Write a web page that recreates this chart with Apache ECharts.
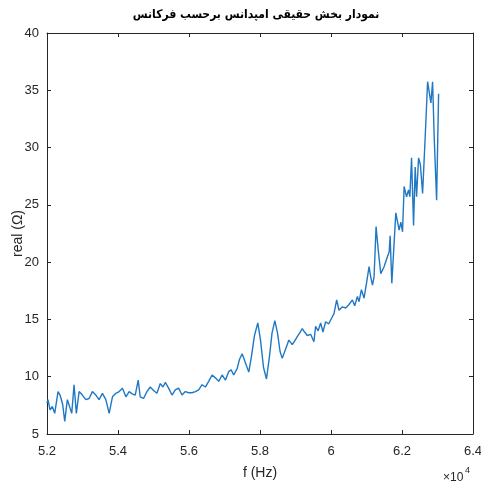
<!DOCTYPE html>
<html>
<head>
<meta charset="utf-8">
<script src="https://cdn.jsdelivr.net/npm/echarts@6/dist/echarts.min.js"></script>
<style>html,body{margin:0;padding:0;background:#fff}#c{width:481px;height:485px}</style>
</head>
<body>
<div id="c"></div>
<script>
// Frequency (Hz)
const freq = [52000,52028,52085,52150,52217,52311,52367,52440,52500,52573,52697,52762,52827,52904,52997,53093,53186,53279,53375,53468,53561,53657,53751,53844,53940,54033,54126,54222,54315,54400,54485,54569,54626,
54719,54815,54908,55001,55097,55191,55267,55332,55425,55521,55614,55707,55803,55896,55990,56086,56179,56272,56368,56461,56554,56650,56743,56837,56933,57026,57119,57187,57260,57356,57421,57497,57591,57684,57760,57845,57938,58014,58099,58183,58268,58339,58418,58494,58565,58627,58720,58813,58909,58974,59050,59115,59191,59256,59333,59426,59519,59567,59638,59708,59773,59849,59934,
59990,60084,60160,60225,60321,60414,60507,60603,60668,60744,60790,60857,60931,61007,61072,61120,61168,61213,61270,61332,61402,61495,61591,61640,61665,61713,61826,61919,61967,62015,62060,62128,62184,62221,62269,62326,62371,62410,62467,62518,62580,62653,62721,62766,62814,62862,62907,62975,63031];
// Real part of impedance (Ohm)
const realPart = [7.7,8.0,7.1,7.4,6.8,8.7,8.4,7.6,6.1,8.0,6.8,9.3,6.8,8.7,8.4,8.0,8.1,8.7,8.4,8.0,8.55,8.0,6.8,8.25,8.55,8.7,9.0,8.25,8.7,8.5,8.4,9.7,8.25,
8.1,8.7,9.1,8.8,8.55,9.4,9.1,9.5,9.0,8.4,8.85,9.0,8.4,8.7,8.6,8.6,8.7,8.85,9.3,9.1,9.6,10.15,9.9,9.6,10.15,9.7,10.45,10.6,10.15,10.7,11.5,12.0,11.2,10.4,11.8,13.6,14.7,13.2,10.8,9.8,11.8,13.8,14.9,13.8,12.2,11.6,12.4,13.2,12.8,13.1,13.5,13.8,14.2,13.9,13.6,13.7,13.05,14.4,14.0,14.7,13.9,14.8,14.6,
14.95,15.5,16.7,15.8,16.1,16.0,16.3,16.7,16.2,17.0,16.55,17.6,16.85,18.3,19.6,18.7,18.0,18.7,23.1,21.0,19.0,19.6,20.5,20.9,22.3,18.15,24.3,22.8,23.5,22.65,26.6,25.7,26.3,25.7,29.1,23.2,28.3,25.7,29.1,28.5,26.0,30.9,35.75,35.9,33.9,35.75,30.9,25.4,34.7];
// Tick values
const xTicks = [52000,54000,56000,58000,60000,62000,64000];
const yTicks = [5,10,15,20,25,30,35,40];

const titleText = 'نمودار بخش حقیقی امپدانس برحسب فرکانس';
const axisColor = '#262626';
const fontFam = 'Liberation Sans, Arial, sans-serif';

const chart = echarts.init(document.getElementById('c'), null, {renderer:'canvas'});
const baseX = {
  type:'value', min:xTicks[0], max:xTicks[xTicks.length-1], interval:2000,
  axisLine:{show:true,lineStyle:{color:axisColor,width:1}},
  axisTick:{show:true,inside:true,length:4,lineStyle:{color:axisColor}},
  splitLine:{show:false}
};
const baseY = {
  type:'value', min:yTicks[0], max:yTicks[yTicks.length-1], interval:5,
  axisLine:{show:true,lineStyle:{color:axisColor,width:1}},
  axisTick:{show:true,inside:true,length:4,lineStyle:{color:axisColor}},
  splitLine:{show:false}
};
chart.setOption({
  animation:false,
  backgroundColor:'#fff',
  grid:{left:47,right:8,top:33,bottom:51,containLabel:false,outerBoundsMode:'none'},
  xAxis:[
    Object.assign({}, baseX, {position:'bottom',
      name:'f (Hz)', nameLocation:'middle', nameGap:32, nameMoveOverlap:false,
      nameTextStyle:{color:axisColor,fontSize:14,fontFamily:fontFam},
      axisLabel:{show:true,margin:11,color:axisColor,fontSize:13,fontFamily:fontFam,
        formatter:v=>String(+(v/10000).toFixed(1))}}),
    Object.assign({}, baseX, {position:'top', axisLabel:{show:false}})
  ],
  yAxis:[
    Object.assign({}, baseY, {position:'left',
      name:'real (Ω)', nameLocation:'middle', nameGap:22, nameRotate:90, nameMoveOverlap:false,
      nameTextStyle:{color:axisColor,fontSize:14,fontFamily:fontFam},
      axisLabel:{show:true,margin:8,color:axisColor,fontSize:13,fontFamily:fontFam}}),
    Object.assign({}, baseY, {position:'right', axisLabel:{show:false}})
  ],
  graphic:[
    {type:'text', x:256, y:15, style:{text:titleText, align:'center', verticalAlign:'middle',
      fontSize:12, fontWeight:'bold', fontFamily:'DejaVu Sans Condensed, DejaVu Sans, sans-serif', fill:'#000'}},
    {type:'text', x:443, y:478, style:{text:'×10', align:'left', verticalAlign:'middle',
      fontSize:12, fontFamily:fontFam, fill:axisColor}},
    {type:'text', x:465, y:471, style:{text:'4', align:'left', verticalAlign:'middle',
      fontSize:9, fontFamily:fontFam, fill:axisColor}}
  ],
  series:[{
    type:'line', xAxisIndex:0, yAxisIndex:0, showSymbol:false, smooth:false,
    lineStyle:{color:'#1f78c4',width:1.4},
    data:freq.map((f,i)=>[f, realPart[i]])
  }]
});
</script>
</body>
</html>
